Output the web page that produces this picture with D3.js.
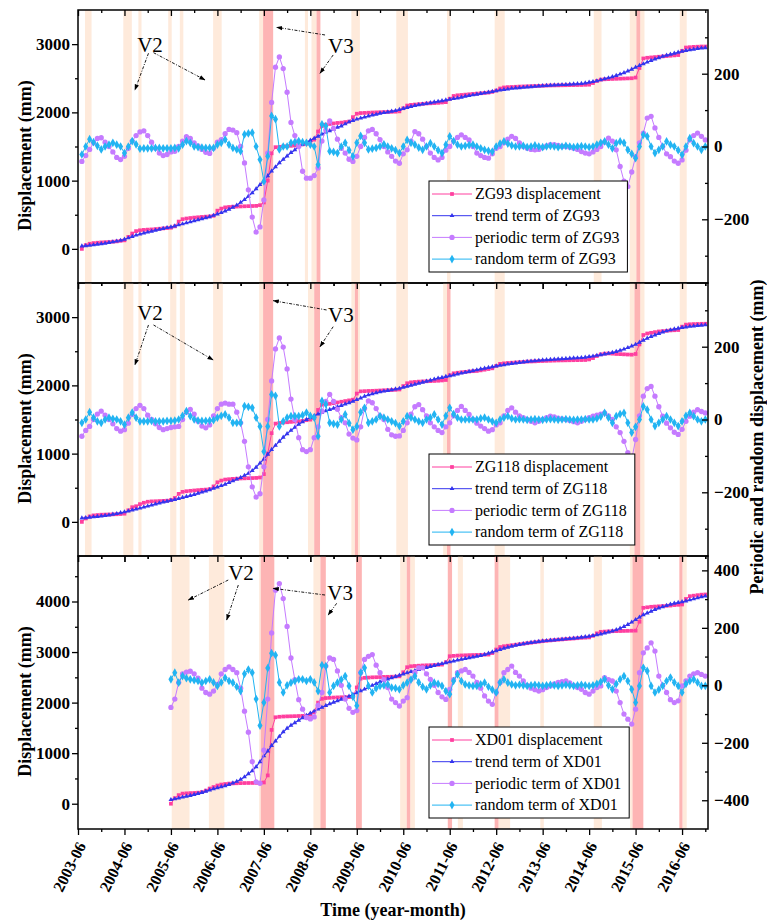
<!DOCTYPE html>
<html><head><meta charset="utf-8">
<script src="https://cdn.jsdelivr.net/npm/d3@7"></script>
<style>
body{margin:0;background:#fff}
svg text{font-family:"Liberation Serif","Times New Roman",serif !important}
</style></head>
<body><svg id="chart" width="767" height="922" font-family="Liberation Serif"></svg>
<script>
// ---------- x categories ----------
const tickLabels = ["2003-06","2004-06","2005-06","2006-06","2007-06","2008-06","2009-06","2010-06","2011-06","2012-06","2013-06","2014-06","2015-06","2016-06"];
const zg93Start = "2003-07", zg118Start = "2003-07", xd01Start = "2005-06";

// ---------- ZG93 (monthly) ----------
const zg93Displacement = [
0,55,75,85,90,95,98,100,105,110,118,125,
175,225,260,272,278,282,285,290,295,300,305,310,
330,400,435,445,452,458,463,468,472,476,485,560,
590,608,614,618,620,622,624,626,628,630,640,680,
1000,1400,1490,1495,1500,1505,1510,1515,1520,1530,1540,1560,
1600,1720,1800,1820,1830,1838,1845,1850,1858,1865,1930,1980,
1990,1992,1995,1998,2000,2002,2004,2006,2008,2010,2015,2060,
2100,2110,2115,2120,2125,2130,2133,2136,2140,2145,2150,2200,
2240,2250,2255,2260,2265,2270,2275,2280,2285,2290,2300,2320,
2350,2365,2370,2372,2375,2378,2380,2382,2384,2386,2388,2390,
2392,2394,2395,2396,2397,2398,2399,2400,2401,2402,2404,2406,
2430,2460,2480,2485,2487,2490,2492,2494,2496,2498,2500,2510,
2650,2790,2800,2805,2810,2815,2820,2825,2830,2835,2840,2900,
2950,2955,2960,2962,2965,2965];
const zg93Trend = [
40,45,50,58,66,74,82,92,102,112,123,140,
160,180,200,215,230,245,258,271,285,298,310,320,
335,350,365,380,395,410,425,440,455,470,490,510,
530,555,580,610,640,680,720,770,820,880,940,1000,
1070,1140,1200,1260,1310,1360,1410,1450,1500,1530,1560,1590,
1620,1650,1680,1710,1730,1750,1780,1800,1830,1860,1880,1900,
1915,1930,1945,1960,1970,1985,1995,2005,2015,2025,2040,2055,
2070,2085,2100,2110,2120,2130,2140,2150,2160,2170,2180,2190,
2200,2210,2220,2235,2245,2255,2265,2275,2285,2295,2305,2315,
2325,2335,2340,2350,2355,2360,2365,2370,2375,2380,2385,2390,
2393,2396,2399,2402,2405,2408,2411,2414,2418,2422,2430,2440,
2450,2460,2475,2490,2505,2520,2540,2560,2580,2605,2630,2660,
2685,2710,2735,2760,2780,2800,2820,2835,2850,2865,2880,2895,
2905,2915,2925,2935,2940,2945];
const zg93Periodic = [
-41,-25,-8,10,22,24,12,0,-15,-30,-36,-27,
-5,15,30,40,43,30,12,-5,-18,-25,-22,-15,
-13,0,15,27,22,10,2,-8,-16,-19,-5,12,
19,35,47,45,38,0,-45,-119,-194,-235,-221,-147,
-18,121,218,246,214,149,66,30,0,-68,-87,-87,
-80,-59,15,45,70,50,20,-5,-18,-35,-41,-27,
0,25,43,47,35,19,0,-15,-27,-40,-46,-20,
-9,15,41,35,20,0,-18,-30,-37,-30,-10,0,
15,25,32,25,18,0,-18,-25,-30,-32,-20,-5,
0,10,20,28,22,10,0,-5,-8,-9,-8,-3,
2,5,5,3,0,0,-2,-5,-8,-14,-18,-20,
-15,-8,0,12,23,15,-9,-55,-95,-110,-70,-28,
10,37,78,83,51,25,0,-20,-28,-40,-46,-37,
-10,18,30,37,28,18];
const zg93Random = [
-22,0,20,12,2,-8,0,5,10,5,0,-18,
0,15,6,-6,-5,-5,-5,-4,-4,-5,-5,-5,
-4,-5,5,15,10,0,-2,-3,-4,-4,-4,5,
10,19,5,-4,-8,-13,33,36,38,0,-36,-96,
-27,84,75,-8,0,0,10,12,15,12,10,5,
0,-50,61,56,-13,-15,-18,0,10,-10,-27,10,
29,10,-8,-6,-4,0,6,0,-5,-10,-18,0,
18,10,5,-3,-9,0,9,0,-10,-18,5,28,
15,5,0,2,4,5,0,-5,-9,-12,-14,0,
8,14,8,3,0,0,2,-2,0,3,0,-2,
0,2,0,-2,0,2,0,-2,0,1,0,-2,
0,5,10,14,5,-5,9,14,10,-9,-20,-32,
0,32,28,0,-18,-9,0,14,5,0,-10,-23,
0,23,9,0,-9,0];

// ---------- ZG118 (monthly) ----------
const zg118Displacement = [
0,50,80,95,100,105,107,108,110,112,115,120,
170,215,229,260,280,295,300,302,305,308,310,320,
350,410,440,449,455,460,465,470,473,480,520,580,
605,620,625,630,633,636,638,640,642,644,650,700,
1000,1300,1440,1449,1455,1460,1465,1470,1475,1480,1490,1498,
1520,1640,1717,1725,1730,1740,1750,1760,1770,1780,1790,1880,
1912,1915,1918,1920,1922,1925,1928,1930,1932,1935,1940,1990,
2031,2045,2050,2055,2058,2060,2062,2065,2068,2072,2079,2150,
2177,2185,2192,2198,2203,2208,2211,2220,2230,2240,2250,2285,
2315,2323,2328,2332,2336,2340,2344,2348,2350,2352,2355,2357,
2359,2361,2363,2365,2366,2367,2368,2369,2370,2371,2372,2380,
2400,2430,2455,2465,2468,2465,2460,2458,2455,2452,2450,2460,
2600,2738,2760,2770,2780,2790,2795,2800,2805,2808,2811,2860,
2890,2895,2898,2900,2902,2903];
const zg118Trend = [
55,60,66,72,78,84,92,100,110,120,132,145,
158,172,186,200,215,230,245,260,275,290,302,315,
328,342,356,370,385,400,418,435,452,470,490,510,
530,550,575,600,625,650,680,710,750,800,860,920,
990,1060,1120,1180,1240,1290,1340,1385,1430,1465,1500,1530,
1555,1580,1605,1625,1645,1665,1685,1705,1725,1745,1765,1790,
1815,1840,1860,1875,1890,1905,1915,1925,1935,1945,1955,1970,
1985,2000,2015,2030,2045,2060,2075,2090,2105,2115,2128,2140,
2152,2165,2178,2190,2202,2214,2226,2238,2250,2262,2272,2282,
2292,2300,2310,2320,2328,2335,2342,2348,2354,2360,2365,2370,
2374,2378,2382,2386,2390,2393,2396,2399,2402,2406,2412,2420,
2428,2438,2448,2458,2468,2480,2495,2512,2530,2552,2575,2600,
2630,2660,2690,2715,2738,2760,2780,2798,2812,2825,2836,2846,
2855,2863,2870,2876,2881,2885];
const zg118Periodic = [
-46,-30,-19,0,15,23,12,0,-12,-25,-32,-28,
-10,14,30,39,30,12,0,-12,-22,-28,-25,-22,
-20,-19,0,20,28,15,-5,-18,-23,-15,10,30,
42,45,42,42,20,-9,-60,-130,-185,-213,-204,-130,
0,106,194,224,199,139,56,0,-50,-83,-88,-83,
-50,-20,23,50,69,50,28,5,-9,-40,-51,-56,
-20,30,51,46,30,10,0,-27,-42,-46,-45,-30,
-9,15,35,41,27,10,-9,-20,-30,-36,-20,-9,
10,25,36,25,14,0,-10,-18,-25,-32,-28,-15,
-9,10,25,32,20,10,5,0,-5,-9,-5,0,
5,9,7,4,2,0,-3,-6,-9,-5,0,5,
9,12,15,18,10,0,-20,-36,-60,-91,-110,-55,
10,64,85,91,64,35,9,-10,-23,-35,-41,-27,
-5,9,20,27,22,18];
const zg118Random = [
-9,0,20,5,-5,-9,0,5,2,0,-5,-14,
5,19,5,-5,-5,-5,-4,-5,-5,-5,-4,-4,
-3,0,10,23,9,0,-3,-4,-4,-3,-2,5,
10,14,5,-9,-9,-9,37,35,32,5,-19,-88,
-19,69,65,-19,-5,5,9,9,9,12,19,10,
5,-46,51,42,-9,-12,-14,0,14,-10,-28,-19,
20,32,-9,-5,0,9,5,0,-5,-10,-18,-5,
9,5,0,-5,-9,0,5,14,0,-14,10,32,
15,5,0,0,0,0,0,3,5,0,-5,-9,
0,5,9,3,0,1,0,-1,0,1,0,-1,
0,1,0,-1,0,1,0,-1,0,0,1,0,
0,3,8,18,5,-9,9,15,18,-9,-36,-20,
0,36,27,0,-18,-9,0,9,0,-9,-18,-5,
10,18,9,0,-5,0];

// ---------- XD01 (monthly, from 2005-06) ----------
const xd01Displacement = [
0,
110,170,200,205,210,213,218,230,260,300,330,360,
379,390,398,402,405,407,409,410,411,412,415,420,
560,1460,1710,1720,1725,1728,1730,1732,1735,1738,1740,1760,
1810,2000,2076,2090,2095,2100,2103,2106,2108,2110,2112,2300,
2475,2490,2495,2500,2502,2505,2508,2510,2512,2515,2520,2600,
2700,2719,2725,2730,2735,2738,2740,2744,2748,2752,2800,2917,
2925,2930,2933,2936,2939,2941,2943,2945,2948,2950,2980,3050,
3100,3115,3125,3135,3145,3155,3165,3175,3185,3195,3205,3215,
3222,3230,3237,3244,3250,3256,3262,3268,3274,3281,3285,3290,
3320,3370,3400,3405,3410,3412,3414,3416,3418,3420,3422,3424,
3600,3875,3885,3895,3900,3905,3910,3915,3920,3930,3935,3941,
4050,4105,4115,4125,4135,4139];
const xd01Trend = [
80,
95,110,130,146,160,180,200,220,245,270,295,315,
335,355,380,410,440,480,530,590,650,730,830,945,
1040,1150,1240,1330,1420,1490,1550,1600,1650,1700,1745,1790,
1830,1870,1905,1940,1975,2005,2035,2065,2095,2125,2160,2195,
2230,2265,2300,2340,2375,2410,2440,2465,2490,2515,2540,2565,
2590,2612,2632,2652,2672,2692,2712,2732,2752,2770,2788,2805,
2822,2840,2855,2870,2885,2900,2915,2930,2950,2975,3000,3025,
3050,3075,3095,3115,3132,3148,3162,3175,3187,3198,3208,3216,
3224,3231,3238,3245,3252,3259,3266,3273,3280,3290,3300,3312,
3325,3340,3355,3375,3395,3415,3440,3470,3505,3545,3590,3640,
3690,3735,3770,3805,3840,3870,3895,3920,3945,3965,3980,3995,
4010,4030,4050,4070,4090,4105];
const xd01Periodic = [
-77,
-48,10,40,46,49,40,25,-10,-25,-31,-20,3,
40,55,64,55,44,-10,-90,-163,-266,-336,-341,-226,
-48,182,331,354,302,205,95,20,-50,-83,-112,-117,
-110,-70,-25,67,95,90,50,0,-48,-80,-94,-88,
44,90,101,107,70,44,20,-8,-48,-60,-72,-55,
-43,21,45,61,61,40,21,0,-25,-40,-49,-14,
20,44,50,55,45,32,10,-10,-37,-55,-66,-25,
10,44,55,67,45,32,15,0,-10,-15,-20,-15,
-8,-2,5,10,13,15,8,0,-8,-14,-25,-31,
-20,-8,-2,27,20,15,-20,-60,-100,-118,-135,-83,
44,113,130,148,119,32,0,-25,-50,-60,-54,-2,
15,32,40,44,38,32];
const xd01Random = [
21,
44,9,32,25,21,18,15,9,15,21,10,-2,
10,26,15,9,-5,-20,40,55,44,-48,-140,-60,
60,112,105,10,-25,0,9,15,21,21,15,21,
10,-20,70,67,-25,-2,9,20,32,-2,-40,-71,
44,61,-2,-25,-10,-2,0,3,-8,-10,-14,0,
9,20,32,10,-5,-14,0,9,5,-2,-20,-31,
15,38,15,3,0,-2,-2,3,9,-5,-15,-25,
10,21,9,3,0,2,0,-2,0,2,0,-2,
0,2,0,-2,0,2,0,-2,0,2,0,-2,
0,5,12,21,0,-14,5,21,32,15,-14,-60,
-2,61,50,-2,-25,-15,-2,15,27,10,-2,-25,
5,15,21,10,-2,-2];

// ---------- shaded periods (months after 2003-06) ----------
const zg93LightBands = [[1.8,3.5],[11.7,13.9],[15.6,16.4],[23.3,24.2],[26.3,27.2],[34.9,37.1],[46.8,47.8],[58.6,59.4],[60.3,61.6],[70.6,72.8],[82.2,85.2],[95.3,96.2],[107.6,110.2],[133.2,135.2],[142.5,144.2],[145.2,146.3],[155.4,157.2]];
const zg93DarkBands = [[47.8,50.4],[61.6,62.6],[144.2,145.2]];
const zg118LightBands = [[1.8,3.5],[11.7,14.3],[15.6,16.4],[23.8,25.4],[26.3,27.6],[34.9,37.4],[46.8,47.8],[59.4,61.0],[70.6,71.5],[72.3,72.8],[82.2,85.2],[94.3,95.3],[107.6,110.2],[142.5,143.7],[145.2,146.3],[155.4,157.2]];
const zg118DarkBands = [[47.8,50.4],[61.0,62.5],[71.5,72.3],[95.3,96.2],[143.7,145.2]];
const xd01LightBands = [[24.2,28.8],[33.8,37.8],[46.8,47.2],[60.8,62.6],[83.2,84.9],[85.8,87.0],[98.1,99.4],[108.6,111.6],[119.4,120.3],[133.2,135.3],[142.6,143.2],[156.1,157.2]];
const xd01DarkBands = [[47.2,50.7],[62.6,64.0],[71.8,73.3],[84.9,85.8],[95.5,96.6],[107.6,108.6],[143.2,146.0],[155.3,156.1]];

// ---------- annotations (month, left-axis value) ----------
const zg93Notes = [["V2",18.6,2885],["V3",67.9,2870]];
const zg93Arrows = [[18.2,2866,14.7,2328],[19.5,2875,32.8,2475],[63.8,3134,51.3,3247],[65.9,2841,62.5,2573]];
const zg118Notes = [["V2",18.6,2958],["V3",67.9,2929]];
const zg118Arrows = [[18.2,2885,14.7,2299],[19.5,2885,34.9,2372],[64.2,3105,50.4,3241],[65.9,2860,62.5,2567]];
const xd01Notes = [["V2",42.1,4425],["V3",67.7,4029]];
const xd01Arrows = [[38.8,4425,28.5,4029],[41.4,4326,38.4,3634],[63.8,4128,50.4,4260],[66.8,3964,64.6,3732]];

// ---------- styling ----------
const FONT = "Liberation Serif";
const colDisp = "#ff3f9f", colTrend = "#3434ee", colPer = "#c57bff", colRand = "#22b4f2";
const colLight = "#feeadb", colDark = "#fdb4b4";

const svg = d3.select("#chart");
const plotLeft = 78, plotRight = 708;
function monthIndex(lbl){ const [y,m] = lbl.split("-").map(Number); return (y-2003)*12 + (m-6); }
const x = d3.scaleLinear().domain([0,162.7]).range([plotLeft,plotRight]);
const majorX = tickLabels.map(monthIndex);
const minorX = majorX.map(v => v+6).filter(v => v < 162.7);

const defs = svg.append("defs");
defs.append("marker").attr("id","arr").attr("viewBox","0 0 10 10").attr("refX",9).attr("refY",5)
  .attr("markerWidth",7).attr("markerHeight",7).attr("orient","auto")
  .append("path").attr("d","M0,1.5L10,5L0,8.5Z").attr("fill","#000");

const panels = [
 {name:"ZG93", top:10, bottom:283, lDom:[-500,3500], lTicks:[0,1000,2000,3000], lMinor:[500,1500,2500],
  rDom:[-375,375], rTicks:[-200,0,200], rMinor:[-300,-100,100,300], start:monthIndex(zg93Start),
  disp:zg93Displacement, trend:zg93Trend, per:zg93Periodic, rand:zg93Random,
  light:zg93LightBands, dark:zg93DarkBands, notes:zg93Notes, arrows:zg93Arrows},
 {name:"ZG118", top:283, bottom:556, lDom:[-500,3500], lTicks:[0,1000,2000,3000], lMinor:[500,1500,2500],
  rDom:[-375,375], rTicks:[-200,0,200], rMinor:[-300,-100,100,300], start:monthIndex(zg118Start),
  disp:zg118Displacement, trend:zg118Trend, per:zg118Periodic, rand:zg118Random,
  light:zg118LightBands, dark:zg118DarkBands, notes:zg118Notes, arrows:zg118Arrows},
 {name:"XD01", top:556, bottom:829, lDom:[-500,4900], lTicks:[0,1000,2000,3000,4000], lMinor:[500,1500,2500,3500,4500],
  rDom:[-500,450], rTicks:[-400,-200,0,200,400], rMinor:[-300,-100,100,300], start:monthIndex(xd01Start),
  disp:xd01Displacement, trend:xd01Trend, per:xd01Periodic, rand:xd01Random,
  light:xd01LightBands, dark:xd01DarkBands, notes:xd01Notes, arrows:xd01Arrows}
];

const symDisp = d3.symbol(d3.symbolSquare, 14)();
const symTrend = d3.symbol(d3.symbolTriangle, 10)();
const symPer = d3.symbol(d3.symbolCircle, 22)();
const symRand = d3.symbol(d3.symbolDiamond, 22)();

panels.forEach((p, pi) => {
  const yL = d3.scaleLinear().domain(p.lDom).range([p.bottom, p.top]);
  const yR = d3.scaleLinear().domain(p.rDom).range([p.bottom, p.top]);
  const cid = "clip" + pi;
  defs.append("clipPath").attr("id", cid).append("rect")
    .attr("x", plotLeft).attr("y", p.top).attr("width", plotRight-plotLeft).attr("height", p.bottom-p.top);
  const body = svg.append("g").attr("clip-path", `url(#${cid})`);

  body.selectAll(null).data(p.light).join("rect")
    .attr("x", d => x(d[0])).attr("width", d => x(d[1])-x(d[0]))
    .attr("y", p.top).attr("height", p.bottom-p.top).attr("fill", colLight);
  body.selectAll(null).data(p.dark).join("rect")
    .attr("x", d => x(d[0])).attr("width", d => x(d[1])-x(d[0]))
    .attr("y", p.top).attr("height", p.bottom-p.top).attr("fill", colDark);

  const series = [
    {vals:p.disp, sc:yL, col:colDisp, sym:symDisp, w:1, label:`${p.name} displacement`},
    {vals:p.trend, sc:yL, col:colTrend, sym:symTrend, w:1.2, label:`trend term of ${p.name}`},
    {vals:p.per, sc:yR, col:colPer, sym:symPer, w:1, label:`periodic term of ${p.name}`},
    {vals:p.rand, sc:yR, col:colRand, sym:symRand, w:1, label:`random term of ${p.name}`}
  ];
  series.forEach(s => {
    const pts = s.vals.map((v,i) => [x(p.start+i), s.sc(v)]);
    body.append("path").attr("d", d3.line()(pts)).attr("fill","none").attr("stroke", s.col).attr("stroke-width", s.w);
    body.append("g").selectAll("path").data(pts).join("path")
      .attr("transform", d => `translate(${d[0]},${d[1]})`).attr("d", s.sym).attr("fill", s.col);
  });

  // annotations
  const ann = svg.append("g");
  ann.selectAll(null).data(p.arrows).join("line")
    .attr("x1", d => x(d[0])).attr("y1", d => yL(d[1])).attr("x2", d => x(d[2])).attr("y2", d => yL(d[3]))
    .attr("stroke","#000").attr("stroke-width",0.9).attr("stroke-dasharray","3,1.5,1,1.5").attr("marker-end","url(#arr)");
  ann.selectAll(null).data(p.notes).join("text")
    .attr("x", d => x(d[1])).attr("y", d => yL(d[2])).attr("text-anchor","middle")
    .attr("font-family",FONT).attr("font-size", 21).text(d => d[0]);

  // axes
  const fmt = d3.format("d");
  const gL = svg.append("g").attr("transform", `translate(${plotLeft},0)`)
    .call(d3.axisLeft(yL).tickValues(p.lTicks).tickSize(6).tickPadding(2).tickFormat(fmt));
  svg.append("g").attr("transform", `translate(${plotLeft},0)`)
    .call(d3.axisLeft(yL).tickValues(p.lMinor).tickSize(3).tickFormat(""));
  const gR = svg.append("g").attr("transform", `translate(${plotRight},0)`)
    .call(d3.axisRight(yR).tickValues(p.rTicks).tickSize(-6).tickPadding(6).tickFormat(fmt));
  svg.append("g").attr("transform", `translate(${plotRight},0)`)
    .call(d3.axisRight(yR).tickValues(p.rMinor).tickSize(-3).tickFormat(""));
  svg.append("g").attr("transform", `translate(0,${p.top})`)
    .call(d3.axisTop(x).tickValues(majorX).tickSize(-6).tickFormat(""));
  svg.append("g").attr("transform", `translate(0,${p.top})`)
    .call(d3.axisTop(x).tickValues(minorX).tickSize(-3).tickFormat(""));
  const gB = svg.append("g").attr("transform", `translate(0,${p.bottom})`)
    .call(d3.axisBottom(x).tickValues(majorX).tickSize(6).tickFormat((d,i) => pi===2 ? tickLabels[i] : ""));
  svg.append("g").attr("transform", `translate(0,${p.bottom})`)
    .call(d3.axisBottom(x).tickValues(minorX).tickSize(3).tickFormat(""));
  svg.selectAll(".domain").remove();
  svg.selectAll("g").filter(function(){ return this.hasAttribute("font-family"); }).attr("font-family", FONT);
  svg.selectAll(".tick line").attr("stroke","#000").attr("stroke-width",1.3);
  [gL,gR].forEach(g => g.selectAll("text").attr("font-size",17).attr("font-weight","bold").attr("font-family",FONT).attr("fill","#000"));
  if (pi===2) {
    gB.selectAll(".tick text").attr("font-size",16).attr("font-weight","bold").attr("font-family",FONT)
      .attr("fill","#000").attr("text-anchor","end").attr("y",0).attr("dy","0.35em")
      .attr("transform","translate(3,14) rotate(-63)");
  }

  // frame
  svg.append("rect").attr("x",plotLeft).attr("y",p.top).attr("width",plotRight-plotLeft).attr("height",p.bottom-p.top)
    .attr("fill","none").attr("stroke","#000").attr("stroke-width",1.5);

  // left title
  svg.append("text").attr("transform",`translate(25,${(p.top+p.bottom)/2+9}) rotate(-90)`)
    .attr("text-anchor","middle").attr("dy","0.35em").attr("font-size",18).attr("font-weight","bold")
    .attr("font-family",FONT).text("Displacement (mm)");

  // legend
  const lg = svg.append("g").attr("transform", `translate(429,${p.top+171})`);
  const box = lg.append("rect").attr("x",0).attr("y",0).attr("height",91).attr("fill","#fff").attr("stroke","#000").attr("stroke-width",1);
  let maxW = 0;
  series.forEach((s,i) => {
    const cy = 13 + i*21.7;
    lg.append("line").attr("x1",3).attr("x2",43).attr("y1",cy).attr("y2",cy).attr("stroke",s.col).attr("stroke-width",1);
    lg.append("path").attr("transform",`translate(23,${cy})`).attr("d",s.sym).attr("fill",s.col);
    const t = lg.append("text").attr("x",46).attr("y",cy).attr("dy","0.33em").attr("font-size",16)
      .attr("font-family",FONT).text(s.label);
    maxW = Math.max(maxW, t.node().getComputedTextLength());
  });
  box.attr("width", 46 + maxW + 8);
});

svg.append("text").attr("transform","translate(757,437) rotate(-90)").attr("text-anchor","middle").attr("dy","0.35em")
  .attr("font-family",FONT).attr("font-size",18).attr("font-weight","bold").text("Periodic and random displacement (mm)");
svg.append("text").attr("x",393).attr("y",916).attr("text-anchor","middle")
  .attr("font-family",FONT).attr("font-size",18).attr("font-weight","bold").text("Time (year-month)");
</script></body></html>
